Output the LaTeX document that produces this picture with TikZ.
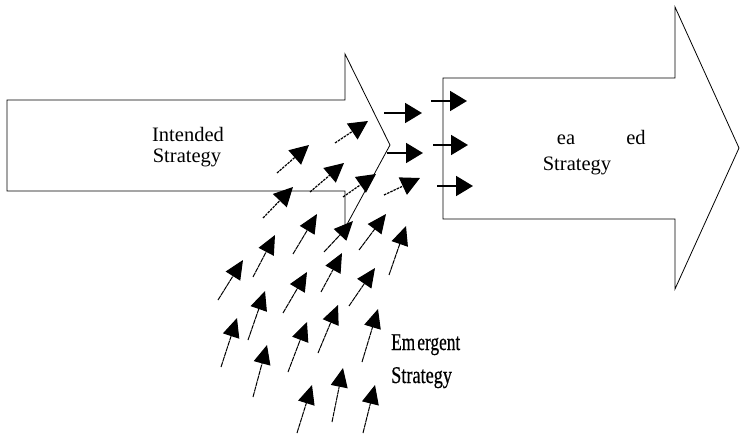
\documentclass[tikz,border=0pt]{standalone}
\usepackage{fontspec}
\usepackage{graphicx}
\setmainfont{Liberation Serif}
\newfontfamily\emfont[FakeBold=0.6]{Liberation Serif}
\usetikzlibrary{arrows.meta}

\tikzset{
  bigarrow/.style={draw=black, fill=white, line width=0.8pt, line join=miter},
  label/.style={font=\fontsize{20.5}{22}\selectfont, anchor=base, inner sep=0pt},
  emlabel/.style={font=\emfont\fontsize{24}{26}\selectfont, anchor=base west, inner sep=0pt},
  flow/.style={line width=1.8pt, -{Triangle[length=17pt, width=20pt]}},
  drift/.style={line width=1.2pt, dash pattern=on 2.5pt off 1pt,
    -{Triangle[length=19pt, width=19pt]}},
  rise/.style={line width=1pt, dash pattern=on 5pt off 0.6pt,
    -{Triangle[length=19pt, width=17pt]}}
}

\begin{document}
\begin{tikzpicture}[x=1pt, y=-1pt]
  \useasboundingbox (0,0) rectangle (740,436);

  % block arrow: intended course
  \draw[bigarrow] (7,100) -- (345,100) -- (345,54) -- (390,145)
    -- (345,228) -- (345,191) -- (7,191) -- cycle;
  \node[label] (int1) at (188,142) {Intended};
  \node[label] (int2) at (187,163) {Strategy};

  % block arrow: resulting course
  \draw[bigarrow] (443,78) -- (675,78) -- (675,7) -- (739,148)
    -- (675,289) -- (675,219) -- (443,219) -- cycle;
  \node[label] (rea1) at (566,145) {ea};
  \node[label] (rea2) at (636,145) {ed};
  \node[label] (rea3) at (577,170.5) {Strategy};

  % label of the emerging moves
  \node[emlabel] (em1) at (391,350) {\scalebox{0.72}[1]{Em\hspace{3pt}ergent}};
  \node[emlabel] (em2) at (391,383) {\scalebox{0.76}[1]{Strategy}};

  % straight flow between the two block arrows
  \foreach \n/\ax/\ay/\bx/\by in {
      1/384/113/422/113, 2/387/153/423/153,
      3/431/101/467/101, 4/433/145/468/145, 5/437/186/473/186} {
    \coordinate (ft\n) at (\ax,\ay);
    \coordinate (fh\n) at (\bx,\by);
    \draw[flow] (ft\n) -- (fh\n);
  }

  % upper scattered moves
  \foreach \n/\ax/\ay/\bx/\by in {
      1/335/143/368/121, 2/277/173/309/145, 3/310/192/344/163,
      4/343/197/376/174, 5/263/218/293/187, 6/384/195/420/178} {
    \coordinate (dt\n) at (\ax,\ay);
    \coordinate (dh\n) at (\bx,\by);
    \draw[drift] (dt\n) -- (dh\n);
  }

  % lower scattered moves
  \foreach \n/\ax/\ay/\bx/\by in {
      1/293/254/317/214, 2/324/252/353/221, 3/359/250/386/214,
      4/389/275/406/226, 5/253/277/275/235, 6/321/292/342/253,
      7/218/300/243/260, 8/283/313/307/272, 9/349/306/375/268,
      10/248/340/265/291, 11/318/353/338/305, 12/362/362/378/309,
      13/221/367/237/318, 14/288/372/307/322, 15/253/397/267/345,
      16/332/422/343/368, 17/297/433/312/385, 18/363/433/375/385} {
    \coordinate (rt\n) at (\ax,\ay);
    \coordinate (rh\n) at (\bx,\by);
    \draw[rise] (rt\n) -- (rh\n);
  }
\end{tikzpicture}
\end{document}
